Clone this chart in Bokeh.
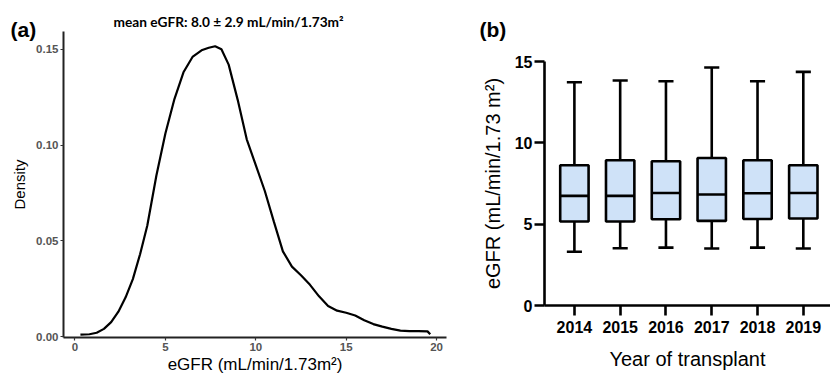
import numpy as np
from bokeh.plotting import figure
from bokeh.layouts import row
from bokeh.models import Range1d, FixedTicker, NumeralTickFormatter, Label, ColumnDataSource, Title
from bokeh.embed import file_html
from bokeh.resources import INLINE

# ---------------- data: panel (a) density of eGFR ----------------
egfr_x = [0.3, 0.8, 1.2, 1.6, 2.0, 2.4, 2.8, 3.2, 3.6, 4.0, 4.5, 5.0, 5.5, 6.0, 6.5,
          7.0, 7.4, 7.75, 8.1, 8.5, 9.0, 9.5, 10.0, 10.5, 11.0, 11.5, 12.0, 12.5,
          13.0, 13.5, 14.0, 14.5, 15.0, 15.5, 16.0, 16.5, 17.0, 17.5, 18.0, 18.5,
          19.0, 19.5, 19.65]
density_y = [0.0010, 0.0012, 0.0020, 0.0040, 0.0075, 0.0130, 0.0205, 0.0300, 0.0430,
             0.0580, 0.0840, 0.1060, 0.1240, 0.1380, 0.1460, 0.1495, 0.1508, 0.1516,
             0.1500, 0.1420, 0.1236, 0.1030, 0.0895, 0.0760, 0.0600, 0.0445, 0.0365,
             0.0320, 0.0270, 0.0210, 0.0160, 0.0135, 0.0124, 0.0110, 0.0085, 0.0065,
             0.0052, 0.0040, 0.0031, 0.0028, 0.0028, 0.0027, 0.0012]
a_xticks = [0, 5, 10, 15, 20]
a_yticks = [0.0, 0.05, 0.10, 0.15]
a_title = "mean eGFR: 8.0 \u00b1 2.9 mL/min/1.73m\u00b2"

# ---------------- data: panel (b) box plots by year ----------------
years = [2014, 2015, 2016, 2017, 2018, 2019]
whisker_low = [3.30, 3.52, 3.56, 3.50, 3.56, 3.50]
q1 = [5.16, 5.16, 5.30, 5.20, 5.32, 5.35]
median = [6.74, 6.74, 6.92, 6.82, 6.90, 6.92]
q3 = [8.62, 8.93, 8.87, 9.07, 8.93, 8.62]
whisker_high = [13.72, 13.83, 13.79, 14.63, 13.79, 14.36]
b_yticks = [0, 5, 10, 15]

SANS = "Liberation Sans"

# ---------------- panel (a) ----------------
A_W = 478
pa = figure(width=A_W, height=376, output_backend="svg", toolbar_location=None,
            x_range=Range1d(-0.636, 20.55), y_range=Range1d(-0.0005, 0.1593),
            min_border_left=63, min_border_right=32, min_border_top=31, min_border_bottom=37)
pa.frame_align = False
pa.line(egfr_x, density_y, line_color="black", line_width=2.2)
pa.outline_line_color = None
pa.grid.visible = False

pa.xaxis.ticker = FixedTicker(ticks=a_xticks)
pa.yaxis.ticker = FixedTicker(ticks=a_yticks)
pa.yaxis.formatter = NumeralTickFormatter(format="0.00")
for ax in (pa.xaxis[0], pa.yaxis[0]):
    ax.axis_line_width = 2
    ax.axis_line_color = "#222222"
    ax.major_tick_line_color = "#333333"
    ax.major_tick_line_width = 1.2
    ax.major_tick_out = 3
    ax.major_tick_in = 0
    ax.minor_tick_line_color = None
    ax.major_label_text_font = SANS
    ax.major_label_text_font_style = "bold"
    ax.major_label_text_color = "#555555"
    ax.major_label_text_font_size = "11.5px"
    ax.major_label_standoff = 2
    ax.axis_label_text_font = SANS
    ax.axis_label_text_font_style = "normal"
    ax.axis_label_text_color = "black"
    ax.axis_label_standoff = 3
pa.xaxis.axis_label = "eGFR (mL/min/1.73m\u00b2)"
pa.xaxis.axis_label_text_font_size = "17px"
pa.xaxis.axis_label_standoff = 1
pa.yaxis.axis_label = "Density"
pa.yaxis.axis_label_text_font_size = "15px"
pa.yaxis.axis_label_standoff = 5

pa.title = Title(text=a_title, align="left", offset=50, text_font="Lato", text_font_style="bold",
                 text_font_size="13.7px", text_color="black", standoff=4)
# panel tag "(a)" lives in the right side panel so it is not clipped by the frame
pa.add_layout(Label(x=10 - 446, y=339 - 31, x_units="screen", y_units="screen", text="(a)",
                    text_font=SANS, text_font_style="bold", text_font_size="21px",
                    text_color="black", text_align="left", text_baseline="middle"), "right")

# ---------------- panel (b) ----------------
pb = figure(width=830 - A_W, height=376, output_backend="svg", toolbar_location=None,
            x_range=Range1d(2013.347, 2019.594), y_range=Range1d(0, 15),
            min_border_left=543 - A_W, min_border_right=0, min_border_top=61, min_border_bottom=71)
pb.frame_align = False
pb.outline_line_color = None
pb.grid.visible = False
pb.add_layout(Label(x=478 - 543, y=32, x_units="screen", y_units="screen", text="(b)",
                    text_font=SANS, text_font_style="bold", text_font_size="21px",
                    text_color="black", text_align="left", text_baseline="middle"), "above")

src = ColumnDataSource(dict(year=years, lo=whisker_low, q1=q1, med=median, q3=q3, hi=whisker_high))
yrs = np.array(years, dtype=float)
BOX_W = 0.62
CAP_W = 0.33
LW = 2.6
pb.segment(x0="year", y0="lo", x1="year", y1="q1", source=src, line_color="black", line_width=LW)
pb.segment(x0="year", y0="q3", x1="year", y1="hi", source=src, line_color="black", line_width=LW)
pb.vbar(x="year", bottom="q1", top="q3", width=BOX_W, source=src,
        fill_color="#cfe2f8", line_color="black", line_width=LW)
pb.segment(x0=yrs - BOX_W / 2, y0=median, x1=yrs + BOX_W / 2, y1=median,
           line_color="black", line_width=LW)
pb.segment(x0=yrs - CAP_W / 2, y0=whisker_high, x1=yrs + CAP_W / 2, y1=whisker_high,
           line_color="black", line_width=LW)
pb.segment(x0=yrs - CAP_W / 2, y0=whisker_low, x1=yrs + CAP_W / 2, y1=whisker_low,
           line_color="black", line_width=LW)

pb.xaxis.ticker = FixedTicker(ticks=years)
pb.yaxis.ticker = FixedTicker(ticks=b_yticks)
for ax in (pb.xaxis[0], pb.yaxis[0]):
    ax.axis_line_width = 2.6
    ax.axis_line_color = "black"
    ax.major_tick_line_color = "black"
    ax.major_tick_line_width = 2.6
    ax.major_tick_out = 10
    ax.major_tick_in = 0
    ax.minor_tick_line_color = None
    ax.major_label_text_font = SANS
    ax.major_label_text_font_style = "bold"
    ax.major_label_text_color = "black"
    ax.major_label_text_font_size = "16px"
    ax.axis_label_text_font = SANS
    ax.axis_label_text_font_style = "normal"
    ax.axis_label_text_color = "black"
    ax.axis_label_text_font_size = "20px"
pb.xaxis.major_label_standoff = 5
pb.yaxis.major_label_standoff = 2
pb.xaxis.axis_label = "Year of transplant"
pb.xaxis.axis_label_standoff = 12
pb.yaxis.axis_label = "eGFR (mL/min/1.73 m\u00b2)"
pb.yaxis.axis_label_standoff = 8

layout = row(pa, pb)
open("out.html", "w").write(file_html(layout, INLINE))
